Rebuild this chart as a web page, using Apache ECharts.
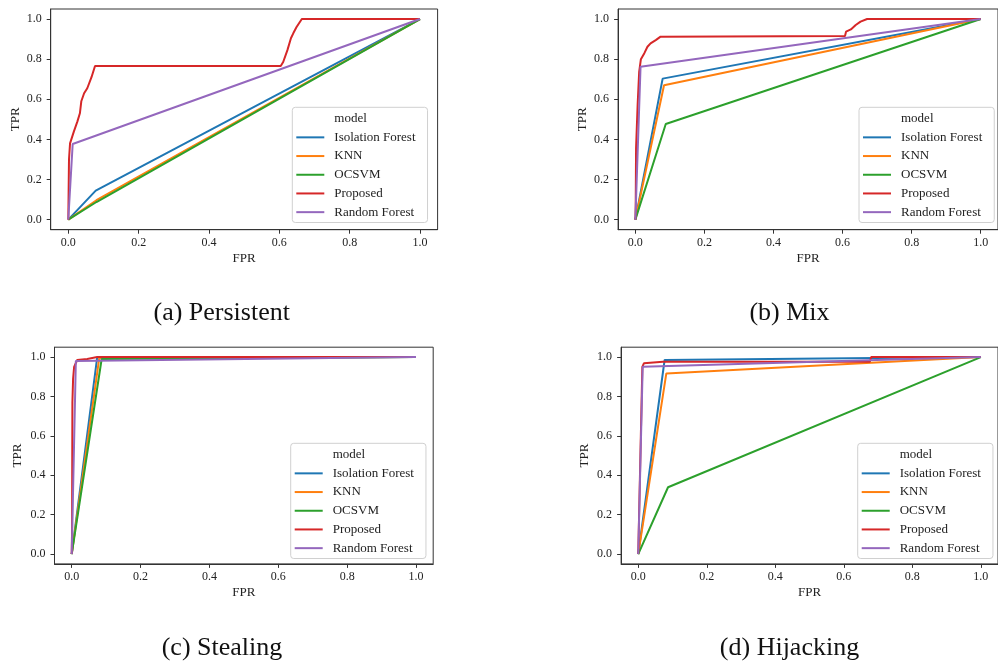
<!DOCTYPE html>
<html>
<head>
<meta charset="utf-8">
<script src="https://cdn.jsdelivr.net/npm/echarts@6/dist/echarts.min.js"></script>
<style>
  html, body { margin: 0; padding: 0; background: #fff; }
  #chart { width: 998px; height: 662px; }
</style>
</head>
<body>
<div id="chart"></div>
<script>
// tick values shared by both axes of every panel
const tickValues = [0, 0.2, 0.4, 0.6, 0.8, 1.0];
const models = ['Isolation Forest', 'KNN', 'OCSVM', 'Proposed', 'Random Forest'];
const panelTitles = ['(a) Persistent', '(b) Mix', '(c) Stealing', '(d) Hijacking'];

// (a) Persistent  [FPR, TPR]
const persistentIF = [[0, 0], [0.078, 0.145], [1, 1]];
const persistentKNN = [[0, 0], [0.08, 0.097], [1, 1]];
const persistentOCSVM = [[0, 0], [0.08, 0.088], [1, 1]];
const persistentProposed = [[0, 0], [0.002, 0.3], [0.005, 0.38], [0.016, 0.44], [0.026, 0.49], [0.033, 0.53],
  [0.037, 0.59], [0.045, 0.63], [0.054, 0.655], [0.066, 0.71], [0.076, 0.766], [0.604, 0.766], [0.611, 0.786],
  [0.623, 0.845], [0.633, 0.904], [0.64, 0.93], [0.649, 0.96], [0.664, 1.0], [1, 1]];
const persistentRF = [[0, 0], [0.0125, 0.377], [1, 1]];

// (b) Mix
const mixIF = [[0, 0], [0.079, 0.703], [1, 1]];
const mixKNN = [[0, 0], [0.083, 0.67], [1, 1]];
const mixOCSVM = [[0, 0], [0.088, 0.477], [1, 1]];
const mixProposed = [[0, 0], [0.001, 0.07], [0.002, 0.356], [0.0065, 0.57], [0.011, 0.737], [0.016, 0.8],
  [0.026, 0.83], [0.035, 0.862], [0.044, 0.879], [0.059, 0.895], [0.073, 0.912], [0.607, 0.915], [0.61, 0.937],
  [0.624, 0.948], [0.638, 0.97], [0.652, 0.987], [0.671, 1.0], [1, 1]];
const mixRF = [[0, 0], [0.015, 0.762], [1, 1]];

// (c) Stealing
const stealingIF = [[0, 0], [0.074, 0.998], [1, 1]];
const stealingKNN = [[0, 0], [0.08, 0.995], [1, 1]];
const stealingOCSVM = [[0, 0], [0.087, 0.99], [1, 1]];
const stealingProposed = [[0, 0], [0.001, 0.12], [0.002, 0.77], [0.004, 0.89], [0.007, 0.95], [0.016, 0.985],
  [0.045, 0.99], [0.074, 1.0], [1, 1]];
const stealingRF = [[0, 0], [0.012, 0.98], [1, 1]];

// (d) Hijacking
const hijackingIF = [[0, 0], [0.077, 0.985], [1, 1]];
const hijackingKNN = [[0, 0], [0.082, 0.917], [1, 1]];
const hijackingOCSVM = [[0, 0], [0.087, 0.339], [1, 1]];
const hijackingProposed = [[0, 0], [0.012, 0.95], [0.0165, 0.968], [0.072, 0.976], [0.676, 0.976], [0.68, 1.0], [1, 1]];
const hijackingRF = [[0, 0], [0.013, 0.951], [1, 1]];

const panelData = [
  [persistentIF, persistentKNN, persistentOCSVM, persistentProposed, persistentRF],
  [mixIF, mixKNN, mixOCSVM, mixProposed, mixRF],
  [stealingIF, stealingKNN, stealingOCSVM, stealingProposed, stealingRF],
  [hijackingIF, hijackingKNN, hijackingOCSVM, hijackingProposed, hijackingRF]
];

const colors = ['#1f77b4', '#ff7f0e', '#2ca02c', '#d62728', '#9467bd'];
const font = 'Liberation Serif';

// layout of the four axes boxes (px)
const grids = [
  { left: 50.7, top: 9, width: 386.9, height: 220.7 },
  { left: 618.1, top: 9, width: 386.8, height: 220.7 },
  { left: 54.5, top: 347.2, width: 378.7, height: 216.7 },
  { left: 621.1, top: 347.2, width: 379.5, height: 216.7 }
];
const legendPos = [
  { left: 292.3, top: 107.3 },
  { left: 859, top: 107.3 },
  { left: 290.7, top: 443.3 },
  { left: 857.7, top: 443.3 }
];
const captionPos = [[221.7, 313], [789.5, 313], [222, 648], [789.5, 648]];

const chart = echarts.init(document.getElementById('chart'));

const axisCommon = {
  type: 'value',
  min: -0.05,
  max: 1.05,
  nameLocation: 'middle',
  nameTextStyle: { fontFamily: font, fontSize: 13, color: '#222' },
  axisLine: { show: true, onZero: false, lineStyle: { color: '#333', width: 1 } },
  axisTick: { show: true, length: 4, customValues: tickValues, lineStyle: { color: '#333' } },
  splitLine: { show: false }
};
const labelCommon = {
  customValues: tickValues,
  fontFamily: font, fontSize: 12, color: '#222',
  formatter: v => v.toFixed(1)
};

const legendItems = [{ name: 'model', icon: 'none' }].concat(models.map(m => ({ name: m, icon: 'rect' })));

const option = {
  animation: false,
  backgroundColor: '#fff',
  grid: grids.map(g => Object.assign({ show: true, borderColor: '#333', borderWidth: 1, backgroundColor: '#fff' }, g)),
  xAxis: grids.map((g, i) => Object.assign({}, axisCommon, {
    gridIndex: i, name: 'FPR', nameGap: 22,
    axisLabel: Object.assign({ margin: 7 }, labelCommon)
  })),
  yAxis: grids.map((g, i) => Object.assign({}, axisCommon, {
    gridIndex: i, name: 'TPR', nameGap: i < 2 ? 29 : 30,
    axisLabel: Object.assign({ margin: 9 }, labelCommon)
  })),
  legend: legendPos.map(p => ({
    orient: 'vertical',
    left: p.left,
    top: p.top,
    padding: [2, 12, 1, 4],
    backgroundColor: 'rgba(255,255,255,0.8)',
    borderColor: '#d0d0d0',
    borderWidth: 1,
    borderRadius: 3,
    itemWidth: 28,
    itemHeight: 2,
    itemGap: 0,
    selectedMode: false,
    textStyle: { fontFamily: font, fontSize: 13, color: '#222', lineHeight: 18.7, padding: [0, 0, 0, 5] },
    data: legendItems
  })),
  graphic: panelTitles.map((t, i) => ({
    type: 'text',
    x: captionPos[i][0],
    y: captionPos[i][1],
    style: {
      text: t, fontFamily: font, fontSize: 26, fill: '#111',
      textAlign: 'center', textVerticalAlign: 'middle'
    }
  })),
  series: [{ name: 'model', type: 'line', xAxisIndex: 0, yAxisIndex: 0, data: [] }]
};

panelData.forEach((panel, p) => {
  panel.forEach((pts, m) => {
    option.series.push({
      name: models[m],
      type: 'line',
      xAxisIndex: p,
      yAxisIndex: p,
      data: pts,
      symbol: 'none',
      color: colors[m],
      lineStyle: { width: 2, color: colors[m] }
    });
  });
});

chart.setOption(option);
</script>
</body>
</html>
